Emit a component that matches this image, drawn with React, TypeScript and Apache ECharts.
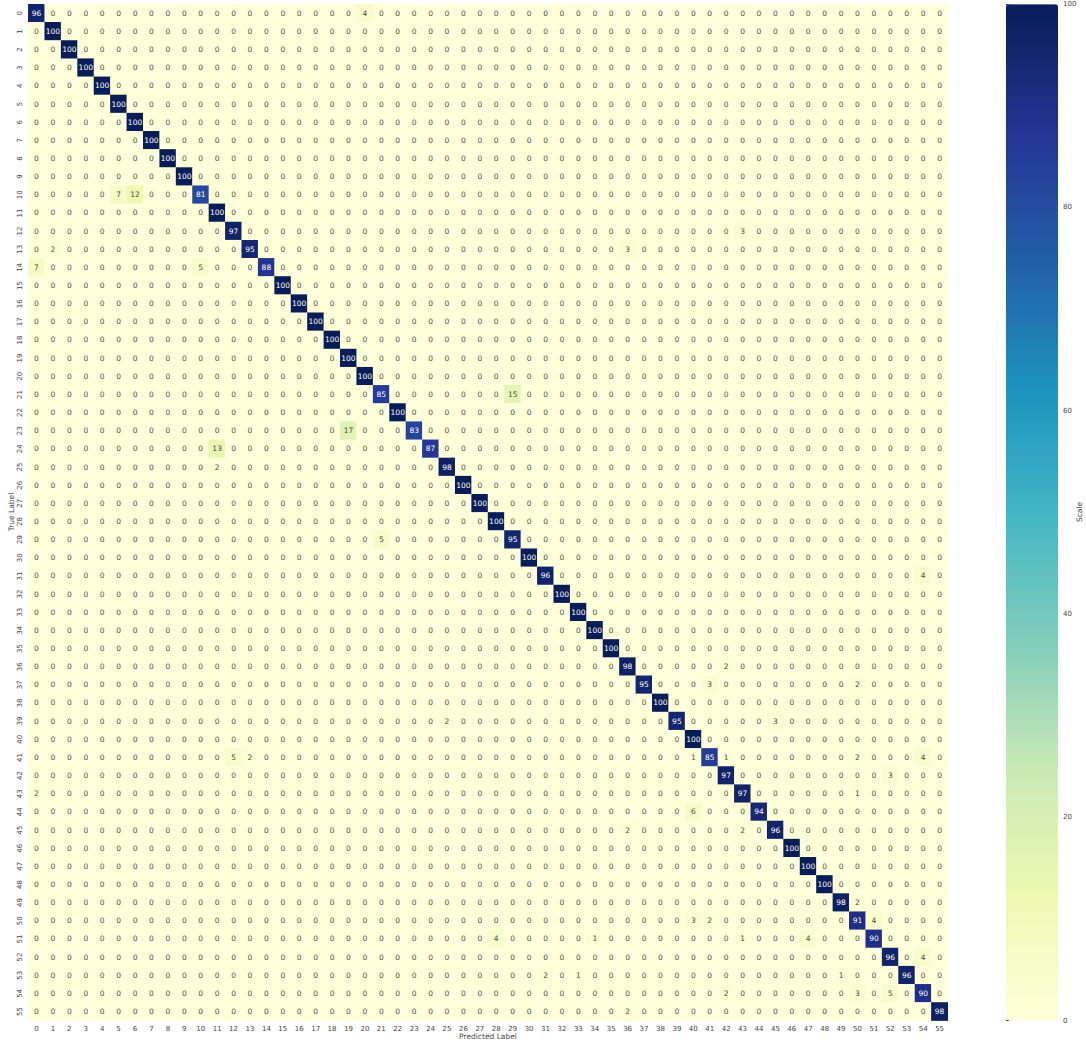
import React, { useEffect, useRef } from "react";
import * as echarts from "echarts";

const classLabels: string[] = Array.from({ length: 56 }, (_, i) => String(i));

// Diagonal (correct-class) percentages, row by row
const diagonalValues: number[] = [
  96, 100, 100, 100, 100, 100, 100, 100, 100, 100,
  81, 100, 97, 95, 88, 100, 100, 100, 100, 100,
  100, 85, 100, 83, 87, 98, 100, 100, 100, 95,
  100, 96, 100, 100, 100, 100, 98, 95, 100, 95,
  100, 85, 97, 97, 94, 96, 100, 100, 100, 98,
  91, 90, 96, 96, 90, 98,
];

// Off-diagonal entries: [true row, predicted col, value]
const offDiagonal: [number, number, number][] = [
  [0, 20, 4], [10, 5, 7], [10, 6, 12], [12, 43, 3], [13, 1, 2], [13, 36, 3],
  [14, 0, 7], [14, 10, 5], [21, 29, 15], [23, 19, 17], [24, 11, 13], [25, 11, 2],
  [29, 21, 5], [31, 54, 4], [36, 42, 2], [37, 41, 3], [37, 50, 2], [39, 25, 2],
  [39, 45, 3], [41, 12, 5], [41, 13, 2], [41, 40, 1], [41, 42, 1], [41, 50, 2],
  [41, 54, 4], [42, 52, 3], [43, 0, 2], [43, 50, 1], [44, 40, 6], [45, 36, 2],
  [45, 43, 2], [49, 50, 2], [50, 40, 3], [50, 41, 2], [50, 51, 4], [51, 28, 4],
  [51, 34, 1], [51, 43, 1], [51, 47, 4], [52, 54, 4], [53, 31, 2], [53, 33, 1],
  [53, 49, 1], [54, 42, 2], [54, 50, 3], [54, 52, 5], [55, 36, 2],
];

const scaleTicks: number[] = [0, 20, 40, 60, 80, 100];

const ylgnbu = [
  "#ffffd9", "#edf8b1", "#c7e9b4", "#7fcdbb", "#41b6c4",
  "#1d91c0", "#225ea8", "#253494", "#081d58",
];

const FONT = "DejaVu Sans";
const nameStyle = { fontSize: 7.5, fill: "#444", fontFamily: FONT, align: "center", verticalAlign: "middle" };

export default function App() {
  const ref = useRef<HTMLDivElement>(null);

  useEffect(() => {
    if (!ref.current) return;
    const chart = echarts.init(ref.current, undefined, { renderer: "svg" });
    const n = classLabels.length;
    const matrix: number[][] = Array.from({ length: n }, () => Array(n).fill(0));
    diagonalValues.forEach((v, i) => (matrix[i][i] = v));
    offDiagonal.forEach(([r, c, v]) => (matrix[r][c] = v));

    const data: any[] = [];
    for (let r = 0; r < n; r++) {
      for (let c = 0; c < n; c++) {
        const v = matrix[r][c];
        data.push({
          value: [c, r, v],
          label: { color: v > 55 ? "#ffffff" : "#4a4a4a" },
        });
      }
    }

    chart.setOption({
      animation: false,
      textStyle: { fontFamily: FONT },
      grid: [
        { left: 28.3, top: 4.2, width: 919.5, height: 1016.4, outerBoundsMode: "none", containLabel: false },
        { left: 1006, top: 4.2, width: 52, height: 1016.4, outerBoundsMode: "none", containLabel: false },
      ],
      xAxis: [
        {
          type: "category",
          gridIndex: 0,
          data: classLabels,
          position: "bottom",
          axisLine: { show: false },
          axisTick: { show: false },
          splitLine: { show: false },
          axisLabel: { fontSize: 7, color: "#444", margin: 5, interval: 0, fontFamily: FONT },
        },
        { type: "value", gridIndex: 1, show: false, min: 0, max: 1 },
      ],
      yAxis: [
        {
          type: "category",
          gridIndex: 0,
          data: classLabels,
          inverse: true,
          axisLine: { show: false },
          axisTick: { show: false },
          splitLine: { show: false },
          axisLabel: { fontSize: 7, color: "#444", margin: 5, interval: 0, rotate: 90, fontFamily: FONT },
        },
        {
          type: "value",
          gridIndex: 1,
          position: "right",
          min: 0,
          max: 100,
          interval: 20,
          axisLine: { show: false },
          axisTick: { show: true, length: 3, inside: false, lineStyle: { color: "#333", width: 1 } },
          splitLine: { show: false },
          axisLabel: {
            fontSize: 7,
            color: "#444",
            margin: 5,
            fontFamily: FONT,
            formatter: (v: number) => (scaleTicks.includes(v) ? String(v) : ""),
          },
        },
      ],
      graphic: [
        { type: "text", x: 488, y: 1036, style: { text: "Predicted Label", ...nameStyle } },
        { type: "text", x: 11, y: 512, rotation: Math.PI / 2, style: { text: "True Label", ...nameStyle } },
        { type: "text", x: 1079, y: 512, rotation: Math.PI / 2, style: { text: "Scale", ...nameStyle } },
      ],
      visualMap: {
        type: "continuous",
        min: 0,
        max: 100,
        seriesIndex: 0,
        calculable: false,
        orient: "vertical",
        left: 1006,
        top: 4.2,
        padding: 0,
        itemWidth: 52,
        itemHeight: 1016.4,
        inRange: { color: ylgnbu },
      },
      series: [
        {
          type: "heatmap",
          xAxisIndex: 0,
          yAxisIndex: 0,
          data,
          label: {
            show: true,
            fontSize: 7.5,
            fontFamily: FONT,
            formatter: (p: any) => String(p.value[2]),
          },
          itemStyle: { borderWidth: 0 },
          emphasis: { disabled: true },
        },
      ],
    });

    return () => chart.dispose();
  }, []);

  return (
    <div
      ref={ref}
      style={{ position: "absolute", left: 0, top: 0, width: 1086, height: 1043, background: "#fff" }}
    />
  );
}
